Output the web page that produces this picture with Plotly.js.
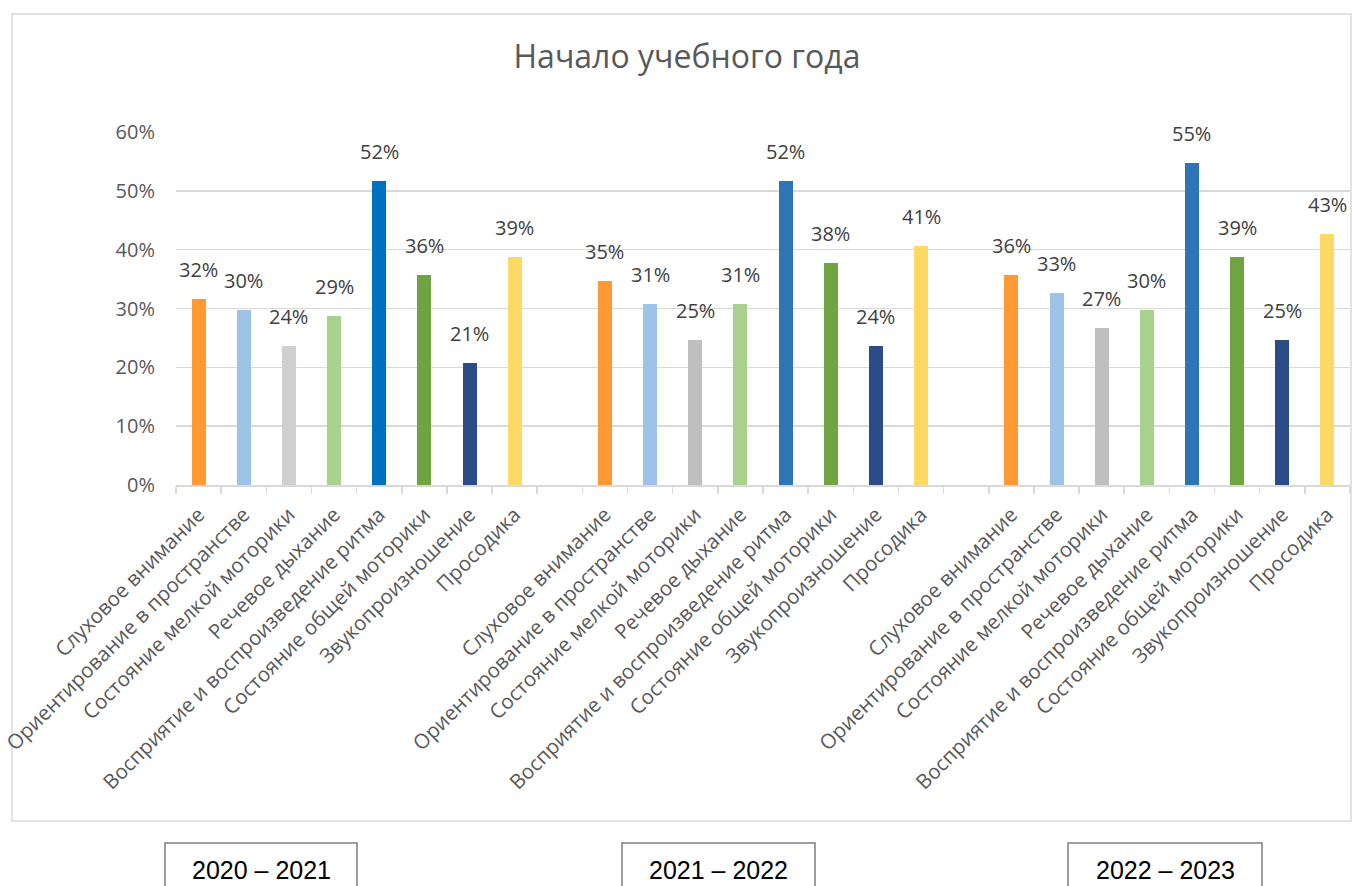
<!DOCTYPE html>
<html>
<head>
<meta charset="utf-8">
<script src="https://cdn.plot.ly/plotly-3.0.1.min.js"></script>
<style>html,body{margin:0;padding:0;background:#fff;}#chart{width:1352px;height:886px;}</style>
</head>
<body>
<div id="chart"></div>
<script>
// ---- data ----
const categories = ["Слуховое внимание","Ориентирование в пространстве","Состояние мелкой моторики","Речевое дыхание","Восприятие и воспроизведение ритма","Состояние общей моторики","Звукопроизношение","Просодика"];
const years = ["2020 – 2021","2021 – 2022","2022 – 2023"];
const values2020 = [0.317,0.297,0.237,0.287,0.517,0.357,0.207,0.387];
const values2021 = [0.347,0.307,0.247,0.307,0.517,0.377,0.237,0.407];
const values2022 = [0.357,0.327,0.267,0.297,0.547,0.387,0.247,0.427];
const colors2020 = ["#FF9933","#9DC3E6","#D0CECE","#A9D18E","#0070C0","#70A443","#2B4C87","#FFD966"];
const colors2021 = ["#FF9933","#9DC3E6","#BFBFBF","#A9D18E","#2E75B6","#70A443","#2B4C87","#FFD966"];
const colors2022 = colors2021;

const groups = [values2020, values2021, values2022];
const groupColors = [colors2020, colors2021, colors2022];

// build positions (one blank slot between groups)
const xs = [], ys = [], cols = [], tickText = [];
groups.forEach((g, gi) => {
  g.forEach((v, i) => {
    const x = gi * (categories.length + 1) + i;
    xs.push(x); ys.push(v); cols.push(groupColors[gi][i]); tickText.push(categories[i]);
  });
});
const nSlots = groups.length * categories.length + (groups.length - 1);

// layout geometry helpers (pixels -> paper)
const W = 1352, H = 886, L = 176, R = 2, T = 132, B = 401;
const pw = W - L - R, ph = H - T - B;
const px = p => (p - L) / pw;
const py = p => (H - B - p) / ph;

const annotations = xs.map((x, i) => ({
  x: x, y: ys[i], xref: 'x', yref: 'y',
  text: Math.round(ys[i] * 100) + '%',
  showarrow: false, yanchor: 'bottom', yshift: 14,
  font: {family: 'Open Sans', size: 20, color: '#404040'}
}));

const boxes = [[165, 357], [622, 815], [1068, 1262]];
const shapes = [{
  type: 'rect', xref: 'paper', yref: 'paper',
  x0: px(12), x1: px(1351), y0: py(821), y1: py(14),
  line: {color: '#D9D9D9', width: 1.5}, fillcolor: 'rgba(0,0,0,0)', layer: 'below'
}];
boxes.forEach((b, i) => {
  shapes.push({type: 'rect', xref: 'paper', yref: 'paper',
    x0: px(b[0]), x1: px(b[1]), y0: py(895), y1: py(843),
    line: {color: '#7F7F7F', width: 1.5}, fillcolor: '#FFFFFF'});
  annotations.push({xref: 'paper', yref: 'paper', x: px((b[0] + b[1]) / 2), y: py(870),
    text: years[i], showarrow: false, xanchor: 'center', yanchor: 'middle',
    font: {family: 'Liberation Sans', size: 25, color: '#000000'}});
});

const trace = {
  type: 'bar', x: xs, y: ys, width: 0.31,
  marker: {color: cols, line: {width: 0}},
  hoverinfo: 'skip'
};

const layout = {
  width: W, height: H,
  margin: {l: L, r: R, t: T, b: B},
  paper_bgcolor: '#FFFFFF', plot_bgcolor: '#FFFFFF',
  showlegend: false,
  title: {text: 'Начало учебного года', x: 687 / W, xanchor: 'center', xref: 'container',
    y: 1 - 57 / H, yanchor: 'middle', yref: 'container',
    font: {family: 'Open Sans', size: 32, color: '#595959'}},
  xaxis: {
    range: [-0.5, nSlots - 0.5], tickmode: 'array', tickvals: xs, ticktext: tickText,
    tickangle: -45, ticks: '', showgrid: false, zeroline: false,
    showline: true, linecolor: '#D9D9D9', linewidth: 1.5,
    ticklabelstandoff: 8, ticklabeloverflow: 'allow',
    tickfont: {family: 'Open Sans', size: 20.5, color: '#595959'},
    minor: {ticks: 'outside', tickmode: 'linear', tick0: -0.5, dtick: 1, ticklen: 7, tickcolor: '#D9D9D9', tickwidth: 1.5, showgrid: false},
    fixedrange: true
  },
  yaxis: {
    range: [0, 0.6], tickvals: [0, 0.1, 0.2, 0.3, 0.4, 0.5, 0.6], tickformat: '.0%',
    showgrid: true, gridcolor: '#D9D9D9', gridwidth: 1.5, zeroline: false, showline: false,
    ticks: '', ticklabelstandoff: 20,
    tickfont: {family: 'Open Sans', size: 20, color: '#595959'}, fixedrange: true
  },
  annotations: annotations,
  shapes: shapes,
  bargap: 0
};

Plotly.newPlot('chart', [trace], layout, {displayModeBar: false, staticPlot: true});
</script>
</body>
</html>
